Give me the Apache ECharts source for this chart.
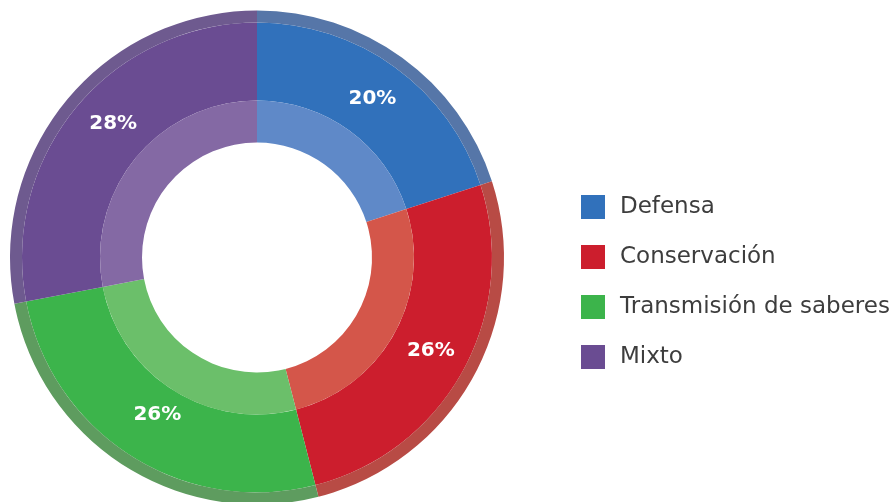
<!DOCTYPE html>
<html>
<head>
<meta charset="utf-8">
<script src="https://cdn.jsdelivr.net/npm/echarts@6/dist/echarts.min.js"></script>
<style>html,body{margin:0;padding:0;background:#fff}#c{width:892px;height:502px}</style>
</head>
<body>
<div id="c"></div>
<script>
const categories = ['Defensa', 'Conservación', 'Transmisión de saberes', 'Mixto'];
const values = [20, 26, 26, 28];
const mainColors = ['#3171BB', '#CC1E2D', '#3CB44B', '#6A4C92'];
const innerColors = ['#5F89C8', '#D4564A', '#6BBF6A', '#8469A4'];
const outerColors = ['#5676A8', '#B84B45', '#5E9C5F', '#6E5A8F'];
// small label nudges (styling only, not data)
const labelNudge = [[-1.5, 2.7], [-0.5, -2.5], [7, -10.5], [9.5, -6.7]];

const mk = (colors, withLabel) => categories.map((n, i) => {
  const d = { name: n, value: values[i], itemStyle: { color: colors[i] } };
  if (withLabel) d.label = { offset: labelNudge[i] };
  return d;
});
const center = [257, 257.5];

const chart = echarts.init(document.getElementById('c'));
chart.setOption({
  animation: false,
  legend: {
    orient: 'vertical',
    left: 581,
    top: 195,
    padding: 0,
    itemWidth: 24,
    itemHeight: 24,
    itemGap: 26,
    icon: 'rect',
    data: categories,
    textStyle: { fontSize: 23, color: '#3d3d3d', fontFamily: 'DejaVu Sans', padding: [0, 0, 0, 10] }
  },
  series: [
    {
      type: 'pie', center: center, radius: [157, 235], startAngle: 90, clockwise: true,
      data: mk(mainColors, true),
      label: { show: true, position: 'inside', formatter: '{c}%', color: '#fff', fontSize: 20, fontWeight: 'bold', fontFamily: 'DejaVu Sans' },
      labelLine: { show: false },
      emphasis: { disabled: true }
    },
    {
      type: 'pie', center: center, radius: [115, 157], startAngle: 90, clockwise: true,
      data: mk(innerColors, false), label: { show: false }, labelLine: { show: false }, emphasis: { disabled: true }
    },
    {
      type: 'pie', center: center, radius: [235, 247], startAngle: 90, clockwise: true,
      data: mk(outerColors, false), label: { show: false }, labelLine: { show: false }, emphasis: { disabled: true }
    }
  ]
});
</script>
</body>
</html>
